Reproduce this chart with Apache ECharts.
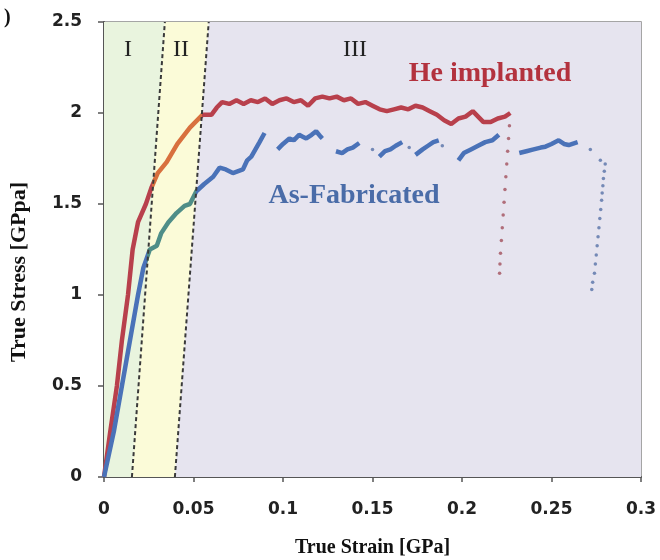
<!DOCTYPE html>
<html>
<head>
<meta charset="utf-8">
<script src="https://cdn.jsdelivr.net/npm/echarts@6/dist/echarts.min.js"></script>
<style>
  html, body { margin: 0; padding: 0; background: #fff; }
  #chart { width: 660px; height: 560px; }
</style>
</head>
<body>
<div id="chart"></div>
<script>
// stage boundaries (dashed lines), [strain, stress]
const boundary1 = [[0.0156, 0], [0.034, 2.5]];
const boundary2 = [[0.0396, 0], [0.0585, 2.5]];

// shaded stage regions
const stageI = [[0, 0], [0.0156, 0], [0.034, 2.5], [0, 2.5]];
const stageII = [[0.0156, 0], [0.0396, 0], [0.0585, 2.5], [0.034, 2.5]];
const stageIII = [[0.0396, 0], [0.3, 0], [0.3, 2.5], [0.0585, 2.5]];

const stageLabels = ["I", "II", "III"];

// He implanted curve
const heImplanted = [
  [0, 0], [0.0035, 0.25], [0.0072, 0.5], [0.010, 0.75], [0.0134, 1.0],
  [0.016, 1.25], [0.019, 1.4], [0.0234, 1.5], [0.0265, 1.59], [0.030, 1.67],
  [0.035, 1.73], [0.041, 1.83], [0.048, 1.92], [0.055, 1.99], [0.060, 1.99],
  [0.063, 2.03], [0.066, 2.06], [0.070, 2.05], [0.074, 2.07], [0.078, 2.05],
  [0.082, 2.07], [0.086, 2.06], [0.090, 2.08], [0.094, 2.05], [0.098, 2.07],
  [0.102, 2.08], [0.106, 2.06], [0.110, 2.07], [0.114, 2.04], [0.118, 2.08],
  [0.122, 2.09], [0.126, 2.08], [0.130, 2.09], [0.134, 2.07], [0.138, 2.08],
  [0.142, 2.05], [0.146, 2.06], [0.150, 2.04], [0.154, 2.02], [0.158, 2.01],
  [0.162, 2.02], [0.166, 2.03], [0.170, 2.02], [0.174, 2.04], [0.178, 2.03],
  [0.182, 2.01], [0.186, 1.99], [0.190, 1.96], [0.194, 1.94], [0.198, 1.97],
  [0.202, 1.98], [0.206, 2.01], [0.209, 1.98], [0.212, 1.95], [0.216, 1.95],
  [0.220, 1.97], [0.224, 1.98], [0.227, 2.0]
];
const heDrop = [
  [0.2265, 1.93], [0.226, 1.86], [0.2255, 1.79], [0.225, 1.72], [0.2245, 1.65],
  [0.224, 1.58], [0.2235, 1.51], [0.223, 1.44], [0.2225, 1.37], [0.222, 1.30],
  [0.2215, 1.23], [0.2212, 1.17], [0.221, 1.12]
];

// As-Fabricated curve, broken into the visible pieces
const asFabSegments = [
  [
    [0, 0], [0.0055, 0.25], [0.010, 0.5], [0.0145, 0.75], [0.019, 1.0],
    [0.022, 1.15], [0.0256, 1.25], [0.0295, 1.27], [0.032, 1.34], [0.036, 1.40],
    [0.0405, 1.45], [0.045, 1.49], [0.048, 1.50], [0.0516, 1.57], [0.056, 1.61],
    [0.061, 1.65], [0.0646, 1.70], [0.068, 1.69], [0.072, 1.67], [0.0776, 1.69],
    [0.080, 1.74], [0.0823, 1.76], [0.0869, 1.84], [0.0897, 1.89]
  ],
  [
    [0.097, 1.80], [0.100, 1.83], [0.1036, 1.86], [0.106, 1.85], [0.109, 1.88],
    [0.111, 1.87], [0.113, 1.86], [0.116, 1.88], [0.1185, 1.90], [0.121, 1.87],
    [0.122, 1.86]
  ],
  [[0.1296, 1.79], [0.133, 1.78], [0.136, 1.80], [0.139, 1.81], [0.1426, 1.835]],
  [[0.1538, 1.76], [0.157, 1.79], [0.160, 1.80], [0.163, 1.82], [0.1666, 1.84]],
  [[0.174, 1.77], [0.178, 1.80], [0.181, 1.82], [0.184, 1.84], [0.187, 1.85]],
  [
    [0.198, 1.74], [0.201, 1.78], [0.205, 1.80], [0.209, 1.82], [0.213, 1.84],
    [0.217, 1.85], [0.2206, 1.88]
  ],
  [
    [0.232, 1.78], [0.236, 1.79], [0.240, 1.80], [0.244, 1.81], [0.2466, 1.815],
    [0.250, 1.83], [0.254, 1.85], [0.257, 1.83], [0.2596, 1.824], [0.2646, 1.84]
  ]
];
const asFabDots = [
  [0.150, 1.80], [0.1705, 1.81], [0.189, 1.82], [0.2717, 1.80],
  [0.2773, 1.74], [0.280, 1.72], [0.2795, 1.68], [0.279, 1.64], [0.2787, 1.60],
  [0.2783, 1.56], [0.278, 1.52], [0.2775, 1.47], [0.277, 1.42], [0.2765, 1.37],
  [0.276, 1.32], [0.2755, 1.27], [0.275, 1.22], [0.2745, 1.17], [0.274, 1.12],
  [0.273, 1.07], [0.2725, 1.03]
];

const RED = "#b8404c";
const BLUE = "#4a72b8";
const tickFont = { fontFamily: "DejaVu Sans", fontWeight: "bold", fontSize: 17, color: "#222" };

function region(pts, fill) {
  return {
    type: "custom",
    silent: true,
    z: 1,
    data: [0],
    renderItem: (params, api) => ({
      type: "polygon",
      shape: { points: pts.map((p) => api.coord(p)) },
      style: { fill },
    }),
  };
}

function dashed(pts) {
  return {
    type: "line",
    data: pts,
    z: 5,
    symbol: "none",
    silent: true,
    lineStyle: { color: "#3a3a3a", width: 2, type: [4, 3] },
  };
}

function label(text, x, y, font, fill, rotation) {
  return {
    type: "text",
    x,
    y,
    z: 100,
    rotation: rotation || 0,
    style: { text, font, fill, align: "center", verticalAlign: "middle" },
  };
}

const chart = echarts.init(document.getElementById("chart"));

const series = [
  region(stageI, "#e9f4de"),
  region(stageII, "#fbfbd8"),
  region(stageIII, "#e6e4ef"),
  {
    type: "line",
    name: "He implanted",
    data: heImplanted,
    z: 3,
    symbol: "none",
    lineStyle: { width: 4.5 },
  },
];
asFabSegments.forEach((seg, i) => {
  series.push({
    type: "line",
    name: "As-Fabricated",
    data: seg,
    z: 3,
    symbol: "none",
    // first piece gets its colours from the visualMap
    lineStyle: i === 0 ? { width: 4.5 } : { width: 4.5, color: BLUE },
  });
});
series.push(
  {
    type: "scatter",
    data: heDrop,
    z: 3,
    symbolSize: 3.5,
    itemStyle: { color: "#a2505c" },
  },
  {
    type: "scatter",
    data: asFabDots,
    z: 3,
    symbolSize: 3.5,
    itemStyle: { color: "#5872a8" },
  },
  dashed(boundary1),
  dashed(boundary2)
);

chart.setOption({
  animation: false,
  grid: {
    left: 104, right: 19, top: 22, bottom: 83,
    outerBoundsMode: "none",
    show: true, borderColor: "#888", borderWidth: 1.5,
  },
  xAxis: {
    type: "value",
    min: 0,
    max: 0.3,
    interval: 0.05,
    name: "True Strain [GPa]",
    nameLocation: "middle",
    nameGap: 61,
    nameTextStyle: { fontFamily: "Liberation Serif", fontWeight: "bold", fontSize: 20, color: "#111" },
    axisLine: { lineStyle: { color: "#555", width: 2 } },
    axisTick: { show: true, length: 5, lineStyle: { color: "#555", width: 1.5 } },
    axisLabel: Object.assign({ margin: 24 }, tickFont),
    splitLine: { show: false },
  },
  yAxis: {
    type: "value",
    min: 0,
    max: 2.5,
    interval: 0.5,
    axisLine: { show: true, lineStyle: { color: "#555", width: 2 } },
    axisTick: { show: true, length: 6, lineStyle: { color: "#555", width: 1.5 } },
    axisLabel: Object.assign({ margin: 22 }, tickFont),
    splitLine: { show: false },
  },
  visualMap: [
    {
      show: false,
      type: "piecewise",
      seriesIndex: 3,
      dimension: 0,
      pieces: [
        { lt: 0.027, color: RED },
        { gte: 0.027, lt: 0.0545, color: "#d8703e" },
        { gte: 0.0545, color: RED },
      ],
    },
    {
      show: false,
      type: "piecewise",
      seriesIndex: 4,
      dimension: 0,
      pieces: [
        { lt: 0.024, color: BLUE },
        { gte: 0.024, lt: 0.0515, color: "#4f8e88" },
        { gte: 0.0515, color: BLUE },
      ],
    },
  ],
  graphic: [
    { type: "text", left: 4, top: 8, style: { text: ")", font: "bold 20px 'Liberation Serif'", fill: "#111" } },
    label("True Stress [GPpa]", 19, 272, "bold 22px 'Liberation Serif'", "#111", Math.PI / 2),
    label(stageLabels[0], 128, 50, "24px 'Liberation Serif'", "#222"),
    label(stageLabels[1], 181, 50, "24px 'Liberation Serif'", "#222"),
    label(stageLabels[2], 355, 50, "24px 'Liberation Serif'", "#222"),
    label("He implanted", 490, 74, "bold 28px 'Liberation Serif'", "#b3323e"),
    label("As-Fabricated", 354, 196, "bold 28px 'Liberation Serif'", "#4a6ca8"),
  ],
  series,
});
</script>
</body>
</html>
